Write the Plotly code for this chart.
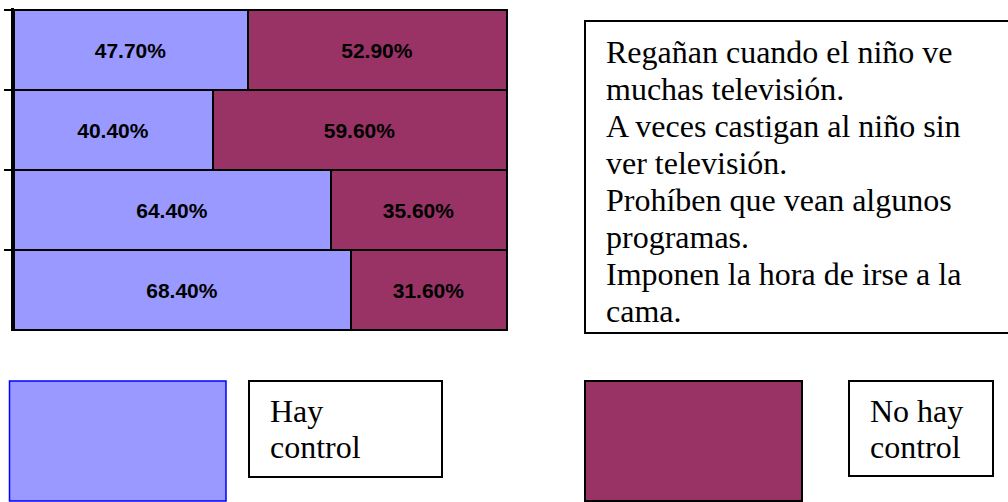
import plotly.graph_objects as go

# Survey statements (top to bottom), each split into its printed lines
statements = [
    ["Regañan cuando el niño ve", "muchas televisión."],
    ["A veces castigan al niño sin", "ver televisión."],
    ["Prohíben que vean algunos", "programas."],
    ["Imponen la hora de irse a la", "cama."],
]
categories = [" ".join(s) for s in statements]

hay_control = [47.7, 40.4, 64.4, 68.4]
no_hay_control = [52.9, 59.6, 35.6, 31.6]

series_names = ["Hay control", "No hay control"]
legend_lines = [["Hay", "control"], ["No hay", "control"]]

BLUE = "#9999FF"
MAROON = "#993366"
W, H = 1008, 502


def px(x):
    return x / W


def py(y):
    return 1 - y / H


# pixel frame of the bar block; a small pad keeps the outer outlines unclipped
X0, X100 = 13.5, 506.0
Y_TOP, Y_BOT = 10.0, 329.5
PAD_X = 0.4            # in percent units
PAD_Y = 0.025          # in category units
n = len(categories)
ppu_x = (X100 - X0) / 100
ppu_y = (Y_BOT - Y_TOP) / n

fig = go.Figure()
for name, vals, color in [(series_names[0], hay_control, BLUE),
                          (series_names[1], no_hay_control, MAROON)]:
    fig.add_trace(go.Bar(
        y=categories, x=vals, orientation="h", name=name,
        marker_color=color,
        marker_line_color="#000000",
        marker_line_width=2,
        text=[f"{v:.2f}%" for v in vals],
        textposition="inside", insidetextanchor="middle", textangle=0,
        textfont=dict(family="Liberation Sans, Arial", size=21,
                      color="black", weight="bold"),
        hoverinfo="skip",
    ))

fig.update_layout(
    width=W, height=H,
    margin=dict(l=0, r=0, t=0, b=0),
    barmode="stack", barnorm="percent", bargap=0,
    showlegend=False,
    paper_bgcolor="white", plot_bgcolor="white",
    xaxis=dict(domain=[px(X0), px(X100 + PAD_X * ppu_x)],
               range=[0, 100 + PAD_X],
               visible=False, fixedrange=True),
    yaxis=dict(domain=[py(Y_BOT + PAD_Y * ppu_y), py(Y_TOP - PAD_Y * ppu_y)],
               range=[n - 0.5 + PAD_Y, -0.5 - PAD_Y],
               type="category", showticklabels=False,
               showline=True, linecolor="black", linewidth=3,
               ticks="outside", tickson="boundaries", ticklen=7,
               tickwidth=2, tickcolor="black", showgrid=False,
               zeroline=False, fixedrange=True),
)

shapes = []
annotations = []


def rect(x0, y0, x1, y1, fill="white", line="black", lw=2):
    shapes.append(dict(type="rect", xref="paper", yref="paper",
                       x0=px(x0), x1=px(x1), y0=py(y1), y1=py(y0),
                       fillcolor=fill, line=dict(color=line, width=lw),
                       layer="above"))


def text_lines(lines, x, y_first, pitch=37):
    for i, t in enumerate(lines):
        annotations.append(dict(
            xref="paper", yref="paper", x=px(x), y=py(y_first + i * pitch),
            xanchor="left", yanchor="middle", showarrow=False, text=t,
            font=dict(family="Liberation Serif, Times New Roman",
                      size=32, color="black")))


# Statement box to the right of the chart
rect(585, 21, 1012, 333)
text_lines([ln for s in statements for ln in s], 604, 52)

# Colour key boxes
rect(9.5, 381, 226, 501, fill=BLUE, line="#0000FF", lw=1.5)
rect(249, 381, 442, 477)
text_lines(legend_lines[0], 268, 411, pitch=36)
rect(585, 381, 802, 501, fill=MAROON, line="black", lw=2)
rect(849, 381, 993, 476)
text_lines(legend_lines[1], 868, 411, pitch=36)

fig.update_layout(shapes=shapes, annotations=annotations)
fig.write_html("out.html")
